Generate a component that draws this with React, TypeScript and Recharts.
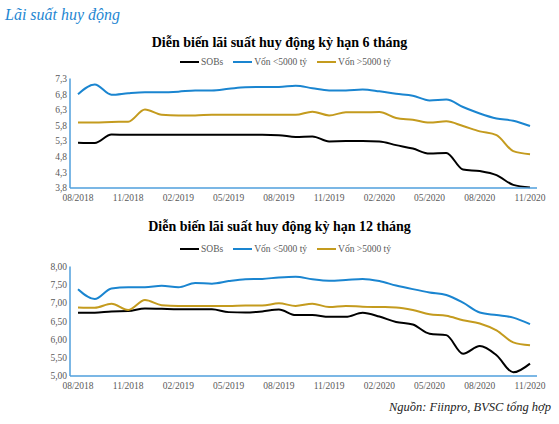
import { Line, LineChart, XAxis, YAxis } from 'recharts'

// monthly, 08/2018 -> 11/2020
const months = [
  '08/2018', '09/2018', '10/2018', '11/2018', '12/2018', '01/2019', '02/2019',
  '03/2019', '04/2019', '05/2019', '06/2019', '07/2019', '08/2019', '09/2019',
  '10/2019', '11/2019', '12/2019', '01/2020', '02/2020', '03/2020', '04/2020',
  '05/2020', '06/2020', '07/2020', '08/2020', '09/2020', '10/2020', '11/2020',
]

// 6-month term
const sobs6 = [
  5.25, 5.24, 5.51, 5.5, 5.5, 5.5, 5.5, 5.5, 5.5, 5.5, 5.5, 5.5, 5.49, 5.43,
  5.45, 5.29, 5.3, 5.3, 5.29, 5.17, 5.06, 4.9, 4.92, 4.39, 4.34, 4.21, 3.9, 3.82,
]
const small6 = [
  6.8, 7.11, 6.78, 6.83, 6.86, 6.86, 6.88, 6.92, 6.92, 6.97, 7.02, 7.03, 7.03, 7.07,
  6.99, 6.92, 6.92, 6.95, 6.89, 6.81, 6.75, 6.6, 6.63, 6.39, 6.18, 6.02, 5.95, 5.78,
]
const large6 = [
  5.89, 5.89, 5.91, 5.92, 6.31, 6.14, 6.12, 6.12, 6.14, 6.14, 6.14, 6.14, 6.14, 6.14,
  6.24, 6.12, 6.22, 6.22, 6.23, 6.04, 5.98, 5.89, 5.93, 5.78, 5.61, 5.49, 4.98, 4.88,
]

// 12-month term
const sobs12 = [
  6.73, 6.73, 6.77, 6.78, 6.85, 6.84, 6.83, 6.83, 6.83, 6.75, 6.74, 6.77, 6.82, 6.67,
  6.67, 6.62, 6.62, 6.73, 6.63, 6.48, 6.41, 6.16, 6.12, 5.61, 5.82, 5.57, 5.1, 5.34,
]
const small12 = [
  7.38, 7.11, 7.4, 7.43, 7.43, 7.47, 7.43, 7.55, 7.53, 7.6, 7.65, 7.66, 7.7, 7.72,
  7.65, 7.61, 7.63, 7.66, 7.6, 7.48, 7.38, 7.29, 7.22, 7.01, 6.74, 6.67, 6.6, 6.42,
]
const large12 = [
  6.88, 6.87, 6.98, 6.81, 7.08, 6.94, 6.92, 6.92, 6.92, 6.92, 6.93, 6.93, 6.99, 6.92,
  6.98, 6.89, 6.92, 6.9, 6.89, 6.88, 6.81, 6.69, 6.65, 6.53, 6.44, 6.25, 5.92, 5.84,
]

const ticks6 = [3.8, 4.3, 4.8, 5.3, 5.8, 6.3, 6.8, 7.3]
const ticks12 = [5, 5.5, 6, 6.5, 7, 7.5, 8]

const seriesNames = ['SOBs', 'Vốn <5000 tỷ', 'Vốn >5000 tỷ']
const COLORS = ['#000000', '#1a85d0', '#c49b1e']
const AXIS = '#4f9fdc'
const SERIF = '"Liberation Serif", "Times New Roman", serif'
const TICK = { fontSize: 9.5, fill: '#595959', fontFamily: SERIF }

function toRows(a: number[], b: number[], c: number[]) {
  return months.map((m, i) => ({ month: m, sobs: a[i], small: b[i], large: c[i] }))
}

function LegendRow({ top }: { top: number }) {
  return (
    <div
      style={{
        position: 'absolute',
        top,
        left: 0,
        width: 559,
        display: 'flex',
        justifyContent: 'center',
        gap: 10,
        fontFamily: SERIF,
        fontSize: 9.5,
        color: '#595959',
        lineHeight: '12px',
        paddingLeft: 6,
      }}
    >
      {seriesNames.map((n, i) => (
        <div key={n} style={{ display: 'flex', alignItems: 'center' }}>
          <span style={{ display: 'inline-block', width: 19, height: 2, background: COLORS[i], marginRight: 2 }} />
          {n}
        </div>
      ))}
    </div>
  )
}

// plot area is 110px tall; chart is 215 tall with the x axis taking what is left below
function RateChart({
  rows,
  ticks,
  digits,
  top,
  marginTop,
}: {
  rows: ReturnType<typeof toRows>
  ticks: number[]
  digits: number
  top: number
  marginTop: number
}) {
  const fmt = (v: number) => v.toFixed(digits).replace('.', ',')
  const xHeight = 215 - marginTop - 109.5
  return (
    <div style={{ position: 'absolute', top, left: 0 }}>
      <LineChart width={559} height={215} data={rows} margin={{ top: marginTop, right: 22, bottom: 0, left: 0 }}>
        <XAxis
          dataKey="month"
          interval={2}
          height={xHeight}
          padding={{ left: 8, right: 7 }}
          tick={TICK}
          tickLine={false}
          tickSize={0}
          tickMargin={6}
          axisLine={{ stroke: AXIS, strokeWidth: 1.5 }}
        />
        <YAxis
          width={70}
          domain={[ticks[0], ticks[ticks.length - 1]]}
          ticks={ticks}
          interval={0}
          tickFormatter={fmt}
          tick={TICK}
          tickLine={false}
          tickSize={0}
          tickMargin={3}
          axisLine={{ stroke: AXIS, strokeWidth: 1.5 }}
        />
        <Line type="monotone" dataKey="sobs" stroke={COLORS[0]} strokeWidth={2} dot={false} isAnimationActive={false} />
        <Line type="monotone" dataKey="small" stroke={COLORS[1]} strokeWidth={2} dot={false} isAnimationActive={false} />
        <Line type="monotone" dataKey="large" stroke={COLORS[2]} strokeWidth={2} dot={false} isAnimationActive={false} />
      </LineChart>
    </div>
  )
}

const titleStyle = (top: number): React.CSSProperties => ({
  position: 'absolute',
  top,
  left: 0,
  width: 559,
  textAlign: 'center',
  fontFamily: SERIF,
  fontWeight: 'bold',
  fontSize: 14,
  lineHeight: '16px',
  color: '#000',
})

export default function App() {
  return (
    <div style={{ position: 'absolute', left: 0, top: 0, width: 559, height: 424, background: '#fff', overflow: 'hidden' }}>
      <div
        style={{
          position: 'absolute',
          top: 5,
          left: 5,
          fontFamily: SERIF,
          fontStyle: 'italic',
          fontSize: 16,
          lineHeight: '20px',
          color: '#1f87d2',
        }}
      >
        Lãi suất huy động
      </div>

      <div style={titleStyle(35)}>Diễn biến lãi suất huy động kỳ hạn 6 tháng</div>
      <LegendRow top={56} />
      <RateChart rows={toRows(sobs6, small6, large6)} ticks={ticks6} digits={1} top={0} marginTop={78.5} />

      <div style={titleStyle(219)}>Diễn biến lãi suất huy động kỳ hạn 12 tháng</div>
      <LegendRow top={243} />
      <RateChart rows={toRows(sobs12, small12, large12)} ticks={ticks12} digits={2} top={188} marginTop={78.5} />

      <div
        style={{
          position: 'absolute',
          top: 399,
          right: 8,
          fontFamily: SERIF,
          fontStyle: 'italic',
          fontSize: 12.5,
          lineHeight: '16px',
          color: '#222',
        }}
      >
        Nguồn: Fiinpro, BVSC tổng hợp
      </div>
    </div>
  )
}
